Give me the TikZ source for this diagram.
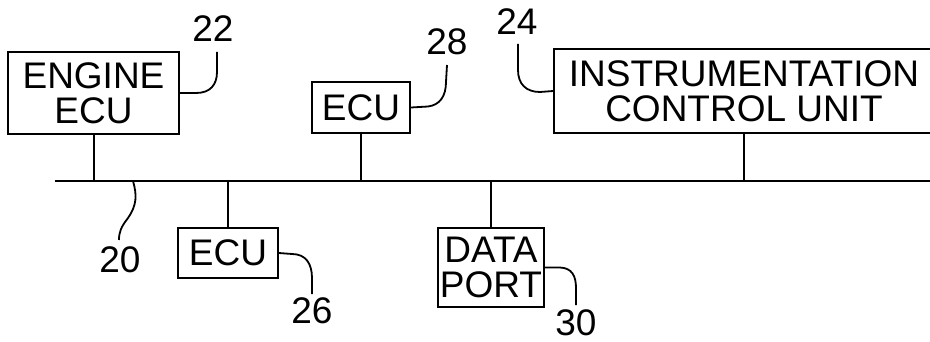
\documentclass[tikz,border=0pt]{standalone}
\usepackage{fontspec}
\setmainfont{Liberation Sans}
\begin{document}
\begin{tikzpicture}[x=1pt,y=-1pt,
  box/.style={draw, line width=1.8pt, inner sep=0pt, align=center, font=\fontsize{37}{35}\selectfont},
  lbl/.style={inner sep=0pt, font=\fontsize{37}{37}\selectfont},
  figcap/.style={anchor=base west, inner sep=0pt, font=\fontsize{52}{52}\selectfont},
  wire/.style={line width=2pt},
  lead/.style={line width=1.8pt}]
\useasboundingbox (0,0) rectangle (930,342);
\clip (0,0) rectangle (930,342);
% figure caption, cut off at the top
\node[figcap] (fig) at (-10,-8) {FIG.};
\node[figcap] (fignum) at (118,-8) {1};
% boxes
\node[box, minimum width=171pt, minimum height=82pt] (eng) at (93.5,93) {ENGINE\\ECU};
\node[box, minimum width=98pt, minimum height=51pt] (ecuA) at (361,107.5) {ECU};
\node[box, minimum width=100pt, minimum height=50pt] (ecuB) at (228,253) {ECU};
\node[box, minimum width=106pt, minimum height=79pt] (dp) at (491,267.5) {DATA\\PORT};
\node[box, minimum width=380pt, minimum height=84pt] (icu) at (744,91) {INSTRUMENTATION\\CONTROL UNIT};
% bus
\coordinate (bl) at (55,181);
\coordinate (br) at (940,181);
\draw[wire] (bl) -- (br);
\draw[wire] (eng.south) -- (eng.south |- bl);
\draw[wire] (ecuA.south) -- (ecuA.south |- bl);
\draw[wire] (icu.south) -- (icu.south |- bl);
\draw[wire] (ecuB.north) -- (ecuB.north |- bl);
\draw[wire] (dp.north) -- (dp.north |- bl);
% reference labels
\node[lbl] (n22) at (213,28.5) {22};
\node[lbl] (n28) at (447,42) {28};
\node[lbl] (n24) at (517,22) {24};
\node[lbl] (n20) at (120,260) {20};
\node[lbl] (n26) at (312,311) {26};
\node[lbl] (n30) at (576,323) {30};
\coordinate (e22) at (217,52);
\coordinate (e28) at (447,65);
\coordinate (e24) at (518,44);
\coordinate (s20) at (133,181);
\coordinate (e20) at (119,240);
\coordinate (e26) at (312,294);
\coordinate (e30) at (576,305);
% leader lines
\draw[lead] (eng.east) -- (196,93) .. controls (210,93) and (217,85) .. (217,72) -- (e22);
\draw[lead] (ecuA.east) -- (428,106.5) .. controls (440,105) and (446,96) .. (446,82) -- (e28);
\draw[lead] (icu.west) -- (540,92) .. controls (526,92) and (518,84) .. (518,70) -- (e24);
\draw[lead] (s20) .. controls (137,195) and (137,205) .. (128,218) .. controls (121,227) and (119,232) .. (e20);
\draw[lead] (ecuB.east) -- (292,254) .. controls (306,254) and (312,264) .. (312,278) -- (e26);
\draw[lead] (dp.east) -- (560,267.5) .. controls (572,268) and (576,276) .. (576,288) -- (e30);
\end{tikzpicture}
\end{document}
